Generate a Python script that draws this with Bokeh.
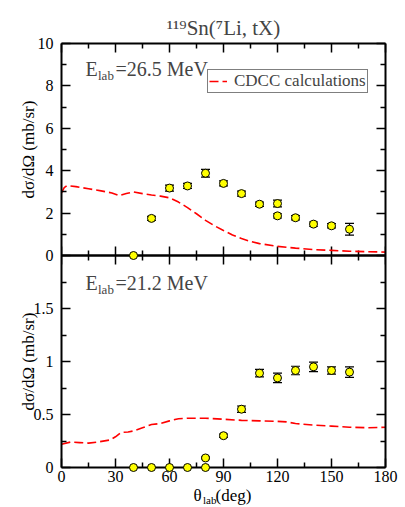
import math
from bokeh.plotting import figure
from bokeh.models import (Range1d, LinearAxis, FixedTicker, Whisker, ColumnDataSource, Label,
                          Title, TeeHead, CustomJSTickFormatter, Span)
from bokeh.core.properties import value
from bokeh.embed import file_html
from bokeh.resources import INLINE

FONT = "Liberation Serif"

# ---------------- data ----------------
# top panel: E_lab = 26.5 MeV
theta_top = [40, 50, 60, 70, 80, 90, 100, 110, 120, 120, 130, 140, 150, 160]
xs_top = [0.0, 1.75, 3.18, 3.28, 3.88, 3.40, 2.92, 2.42, 2.45, 1.87, 1.78, 1.48, 1.40, 1.24]
err_top = [0.0, 0.10, 0.14, 0.12, 0.18, 0.12, 0.12, 0.10, 0.16, 0.10, 0.10, 0.10, 0.10, 0.28]

cdcc_theta_top = [0, 1.5, 3, 8, 15, 22, 28, 32, 36, 40, 45, 50, 55, 60, 65, 70, 75, 80, 85,
                  90, 95, 100, 105, 110, 120, 130, 140, 150, 160, 170, 180]
cdcc_top = [2.95, 3.2, 3.3, 3.25, 3.15, 3.05, 2.95, 2.82, 2.92, 3.0, 2.92, 2.85, 2.8, 2.72,
            2.52, 2.26, 1.97, 1.66, 1.4, 1.18, 0.97, 0.8, 0.66, 0.56, 0.43, 0.35, 0.28,
            0.24, 0.2, 0.18, 0.16]

# bottom panel: E_lab = 21.2 MeV
theta_bot = [40, 50, 60, 70, 80, 80, 90, 100, 110, 120, 130, 140, 150, 160]
xs_bot = [0.0, 0.0, 0.0, 0.0, 0.0, 0.09, 0.30, 0.55, 0.89, 0.845, 0.915, 0.95, 0.915, 0.90]
err_bot = [0.0, 0.0, 0.0, 0.0, 0.0, 0.01, 0.015, 0.03, 0.035, 0.045, 0.04, 0.045, 0.035, 0.05]

cdcc_theta_bot = [0, 5, 10, 15, 20, 27, 30, 33, 37, 40, 45, 50, 55, 60, 65, 70, 80, 90, 100,
                  110, 120, 125, 130, 140, 150, 160, 170, 180]
cdcc_bot = [0.22, 0.24, 0.235, 0.23, 0.24, 0.26, 0.29, 0.33, 0.335, 0.345, 0.375, 0.405,
            0.415, 0.44, 0.46, 0.465, 0.465, 0.455, 0.445, 0.44, 0.435, 0.43, 0.415, 0.40,
            0.39, 0.38, 0.375, 0.38]

x_ticks = [0, 30, 60, 90, 120, 150, 180]
x_minor = [15, 45, 75, 105, 135, 165]
y_ticks_top = [0, 2, 4, 6, 8, 10]
y_labels_top = ["0", "2", "4", "6", "8", "10"]
y_minor_top = [1, 3, 5, 7, 9]
y_ticks_bot = [0, 0.5, 1, 1.5]
y_labels_bot = ["0", "0.5", "1", "1.5"]
y_minor_bot = [0.25, 0.75, 1.25, 1.75]

YLABEL = "dσ/dΩ (mb/sr)"

# The two panels share one frame: the lower half uses y range 0..4 (data 0..2),
# the upper half uses an extra range -10..10 (data 0..10).
BOT_RANGE = (0, 4)
TOP_RANGE = (-10, 10)


def top_to_bot(v):
    return BOT_RANGE[0] + (v - TOP_RANGE[0]) / (TOP_RANGE[1] - TOP_RANGE[0]) * (BOT_RANGE[1] - BOT_RANGE[0])


y_pos = y_ticks_bot + [top_to_bot(v) for v in y_ticks_top]
y_lab = y_labels_bot + y_labels_top
y_min_pos = y_minor_bot + [top_to_bot(v) for v in y_minor_top]
mid = top_to_bot(0)

p = figure(frame_width=324, frame_height=424, output_backend="svg", toolbar_location=None,
           x_range=Range1d(0, 180), y_range=Range1d(*BOT_RANGE),
           x_axis_location=None, y_axis_location=None,
           min_border_left=61, min_border_right=19, min_border_top=43, min_border_bottom=40)
p.extra_y_ranges = {"top": Range1d(*TOP_RANGE)}
p.outline_line_color = None
p.background_fill_color = "white"
p.border_fill_color = "white"
for g in p.grid:
    g.visible = False


def make_axis(ticks, minor, labels=None, standoff=6):
    ax = LinearAxis(ticker=FixedTicker(ticks=ticks, minor_ticks=minor))
    ax.axis_line_width = 2
    ax.axis_line_color = "black"
    ax.major_tick_in = 9
    ax.major_tick_out = 0
    ax.minor_tick_in = 5
    ax.minor_tick_out = 0
    ax.major_tick_line_width = 1.5
    ax.minor_tick_line_width = 1.5
    ax.major_tick_line_color = "black"
    ax.minor_tick_line_color = "black"
    if labels is not None:
        ax.major_label_text_font = FONT
        ax.major_label_text_font_size = "16px"
        ax.major_label_text_color = "black"
        ax.major_label_standoff = standoff
        ax.formatter = CustomJSTickFormatter(
            args=dict(pos=ticks, labs=labels),
            code="for (let i = 0; i < pos.length; i++) { if (Math.abs(pos[i] - tick) < 1e-6) return labs[i]; } return '';")
    else:
        ax.formatter = CustomJSTickFormatter(code="return ''")
        ax.major_label_standoff = 0
        ax.major_label_text_font_size = "1px"
    return ax


p.add_layout(make_axis(y_pos, y_min_pos, labels=y_lab, standoff=8), "left")
p.add_layout(make_axis(y_pos, y_min_pos), "right")
p.add_layout(make_axis(x_ticks, x_minor, labels=[str(t) for t in x_ticks], standoff=3), "below")
p.add_layout(make_axis(x_ticks, x_minor), "above")

# separating line between the panels, with ticks both ways
p.add_layout(Span(location=mid, dimension="width", line_color="black", line_width=2.5))
p.scatter(x_ticks, [mid] * len(x_ticks), marker="dash", angle=math.pi / 2, size=18,
          line_color="black", line_width=1.5)
p.scatter(x_minor, [mid] * len(x_minor), marker="dash", angle=math.pi / 2, size=10,
          line_color="black", line_width=1.5)


def add_data(th, val, err, cth, cval, rng, legend=None):
    kw = dict(line_color="#ff0000", line_width=1.6, line_dash="9 4", y_range_name=rng)
    if legend:
        p.line(cth, cval, legend_label=legend, **kw)
    else:
        p.line(cth, cval, **kw)
    idx = [i for i in range(len(th)) if err[i] > 0]
    src = ColumnDataSource(dict(x=[th[i] for i in idx],
                                lo=[val[i] - err[i] for i in idx],
                                hi=[val[i] + err[i] for i in idx]))
    w = Whisker(base="x", lower="lo", upper="hi", source=src, dimension="height",
                y_range_name=rng, line_color="black", line_width=1.2,
                upper_head=TeeHead(size=9, line_color="black", line_width=1.2),
                lower_head=TeeHead(size=9, line_color="black", line_width=1.2))
    p.add_layout(w)
    p.scatter(th, val, size=8, fill_color="#ffff00", line_color="black", line_width=1,
              level="overlay", y_range_name=rng)


add_data(theta_top, xs_top, err_top, cdcc_theta_top, cdcc_top, "top", legend="CDCC calculations")
add_data(theta_bot, xs_bot, err_bot, cdcc_theta_bot, cdcc_bot, "default")


def screen_label(x, y, text, size):
    p.add_layout(Label(x=x, y=y, x_units="screen", y_units="screen", text=text,
                       text_font=FONT, text_font_size=size, text_baseline="alphabetic"))


def add_elab(value_text, y0):
    screen_label(24, y0, "E", "20px")
    screen_label(36.5, y0 - 7, "lab", "13px")
    screen_label(54, y0, value_text, "20px")


add_elab("=26.5 MeV", 399)
add_elab("=21.2 MeV", 185)


def outside_text(x, y, text, size, xo, yo, rng="default", **kw):
    # text glyphs on the overlay level are not clipped to the frame
    p.text(x=[x], y=[y], text=[text], x_offset=xo, y_offset=yo, y_range_name=rng,
           text_font=value(FONT), text_font_size=value(size), text_color="black",
           level="overlay", **kw)


# y-axis labels, centred on each panel
outside_text(0, 5, YLABEL, "17px", -33, 0, rng="top", angle=math.pi / 2,
             text_align="center", text_baseline="middle")
outside_text(0, 1, YLABEL, "17px", -33, 0, angle=math.pi / 2,
             text_align="center", text_baseline="middle")

# x-axis label: θ_lab(deg)
outside_text(0, 0, "θ", "17px", 132, 28, text_baseline="alphabetic")
outside_text(0, 0, "lab", "11px", 141.5, 32, text_baseline="alphabetic")
outside_text(0, 0, "(deg)", "17px", 154, 28, text_baseline="alphabetic")

p.title = Title(text="¹¹⁹Sn(⁷Li, tX)", align="center", text_font=FONT,
                text_font_size="21px", text_font_style="normal", standoff=8)

lg = p.legend[0]
lg.location = (146, 374)
lg.border_line_color = "black"
lg.border_line_width = 1
lg.background_fill_color = "white"
lg.background_fill_alpha = 1
lg.label_text_font = FONT
lg.label_text_font_size = "17px"
lg.padding = 1
lg.margin = 0
lg.spacing = 0
lg.glyph_width = 18
lg.glyph_height = 16
lg.label_height = 16
lg.label_standoff = 7

open("out.html", "w").write(file_html(p, INLINE))
